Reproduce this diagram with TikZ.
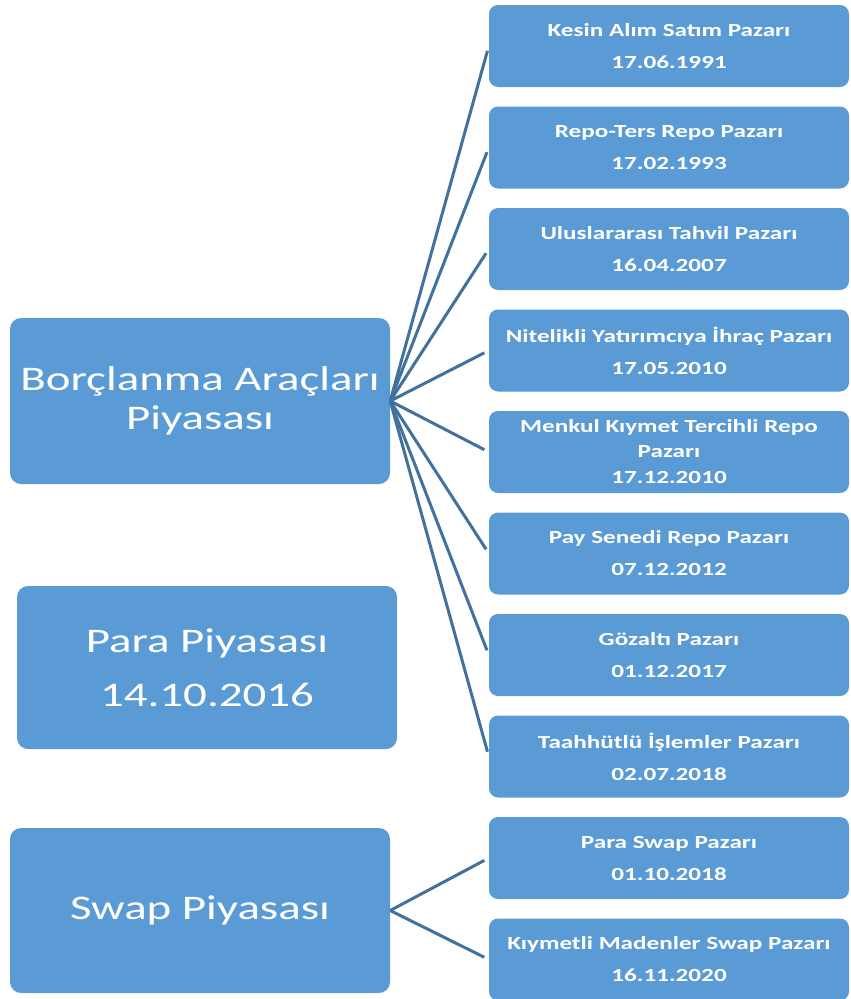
\documentclass[tikz,border=0pt]{standalone}
\usepackage{fontspec}
\setmainfont{Carlito}
\newfontfamily\boxfont[FakeStretch=1.36]{Carlito}

\begin{document}
\begin{tikzpicture}[
    x=1pt, y=-1pt,
    every node/.style={font=\boxfont},
]

\definecolor{boxfill}{HTML}{5B9BD5}
\definecolor{linkcolor}{HTML}{41719C}

% ================================================================
%  Page is 851 x 999, one unit = one pixel, y runs downwards.
%  Three markets on the left (x 10..390), ten sub-markets on the
%  right (x 489..849), pitch 101.5 starting at y = 46.
%  Borcl. fans out to the first eight, Swap to the last two.
% ================================================================

\tikzset{
  market/.style={fill=boxfill, rounded corners=11pt, text=white,
                 align=center, minimum width=380pt, inner sep=0pt,
                 font=\boxfont\fontsize{34.5}{39}\selectfont},
  pazar/.style={fill=boxfill, rounded corners=9pt, text=white,
                align=center, minimum width=360pt, minimum height=82pt,
                inner sep=0pt,
                font=\boxfont\bfseries\fontsize{18.5}{25}\selectfont},
  link/.style={draw=linkcolor, line width=3pt, shorten >=5pt},
}

\useasboundingbox (0,0) rectangle (851,999);

% ---------------------------------------------------------------- markets
\node[market, minimum height=166pt] (borc) at (200,401)
    {Borçlanma Araçları\\Piyasası};
\node[market, minimum height=163pt] (para) at (207,667.5)
    {Para Piyasası\\[15pt]14.10.2016};
\node[market, minimum height=165pt] (swap) at (200,910.5)
    {Swap Piyasası};

% ---------------------------------------------------------------- sub-markets
\foreach \i/\nm/\dt/\g in {
    0/{Kesin Alım Satım Pazarı}/17.06.1991/7pt,
    1/{Repo-Ters Repo Pazarı}/17.02.1993/7pt,
    2/{Uluslararası Tahvil Pazarı}/16.04.2007/7pt,
    3/{Nitelikli Yatırımcıya İhraç Pazarı}/17.05.2010/7pt,
    4/{Menkul Kıymet Tercihli Repo\\Pazarı}/17.12.2010/1pt,
    5/{Pay Senedi Repo Pazarı}/07.12.2012/7pt,
    6/{Gözaltı Pazarı}/01.12.2017/7pt,
    7/{Taahhütlü İşlemler Pazarı}/02.07.2018/7pt,
    8/{Para Swap Pazarı}/01.10.2018/7pt,
    9/{Kıymetli Madenler Swap Pazarı}/16.11.2020/7pt} {
    \node[pazar] (pz\i) at (669, {46 + 101.5*\i}) {\nm\\[\g]\dt};
}

% ---------------------------------------------------------------- links
\foreach \i in {0,...,7} { \draw[link] (borc.east) -- (pz\i.west); }
\foreach \i in {8,9} { \draw[link] (swap.east) -- (pz\i.west); }

\end{tikzpicture}
\end{document}
